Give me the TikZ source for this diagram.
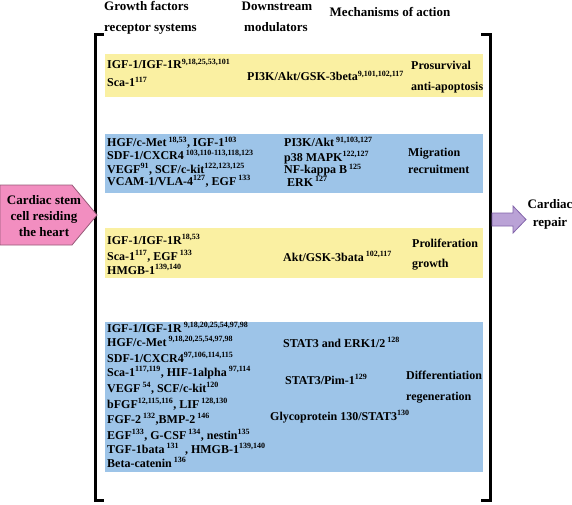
\documentclass[tikz,border=0pt]{standalone}
\usepackage{fontspec}
\setmainfont{Liberation Serif}
\definecolor{boxyellow}{RGB}{250,240,162}
\definecolor{boxblue}{RGB}{157,196,232}
\definecolor{pinkfill}{RGB}{242,142,192}
\definecolor{pinkline}{RGB}{150,90,120}
\definecolor{lavfill}{RGB}{186,162,214}
\definecolor{lavline}{RGB}{130,100,170}
\newcommand{\sps}[1]{\textsuperscript{#1}}
\tikzset{
  hdr/.style={font=\fontsize{13}{15}\selectfont\bfseries, inner sep=0pt},
  txt/.style={font=\fontsize{12}{14}\selectfont\bfseries, inner sep=0pt, anchor=base west},
  bigtxt/.style={font=\fontsize{13}{16}\selectfont\bfseries, inner sep=0pt, anchor=base},
  bracketline/.style={line width=3pt, line cap=butt, line join=miter},
}
\begin{document}
\begin{tikzpicture}[x=1pt,y=-1pt]
\useasboundingbox (0,0) rectangle (572,505);
% boxes
\fill[boxyellow] (105,54) rectangle (483,97);
\fill[boxblue] (105,134) rectangle (483,193);
\fill[boxyellow] (105,228) rectangle (483,278);
\fill[boxblue] (105,322) rectangle (483,472);
% brackets
\draw[bracketline] (104,35) -- (95,35) -- (95,500) -- (104,500);
\draw[bracketline] (481,35) -- (490,35) -- (490,500) -- (481,500);
% headers
\node[hdr, anchor=base west] (h1a) at (104,10.5) {Growth factors};
\node[hdr, anchor=base west] (h1b) at (104,32) {receptor systems};
\node[hdr, anchor=base] (h2a) at (277,10.5) {Downstream};
\node[hdr, anchor=base] (h2b) at (276,32) {modulators};
\node[hdr, anchor=base] (h3) at (390,16.5) {Mechanisms of action};
% left pentagon
\filldraw[fill=pinkfill, draw=pinkline, line width=0.8pt] (0,185) -- (72,185) -- (97,215) -- (72,245) -- (0,245) -- cycle;
\node[bigtxt] (c1) at (44,204.5) {Cardiac stem};
\node[bigtxt] (c2) at (44,220) {cell residing};
\node[bigtxt] (c3) at (44,236.5) {the heart};
% right arrow
\filldraw[fill=lavfill, draw=lavline, line width=0.8pt] (492,213) -- (513,213) -- (513,206) -- (526,219.5) -- (513,233) -- (513,226) -- (492,226) -- cycle;
\node[bigtxt] (r1) at (550,208) {Cardiac};
\node[bigtxt] (r2) at (550,226) {repair};
% box 1
\node[txt] (a1) at (107,69) {IGF-1/IGF-1R\sps{9,18,25,53,101}};
\node[txt] (a2) at (107,87) {Sca-1\sps{117}};
\node[txt] (a3) at (247,81) {PI3K/Akt/GSK-3beta\sps{9,101,102,117}};
\node[txt] (a4) at (411,70) {Prosurvival};
\node[txt] (a5) at (411,91) {anti-apoptosis};
% box 2
\node[txt] (b1) at (107,147) {HGF/c-Met\,\sps{18,53}, IGF-1\sps{103}};
\node[txt] (b2) at (107,160) {SDF-1/CXCR4\,\sps{103,110-113,118,123}};
\node[txt] (b3) at (107,173) {VEGF\sps{91}, SCF/c-kit\sps{122,123,125}};
\node[txt] (b4) at (107,185) {VCAM-1/VLA-4\sps{127}, EGF\,\sps{133}};
\node[txt] (b5) at (284,147) {PI3K/Akt\,\sps{91,103,127}};
\node[txt] (b6) at (284,161) {p38 MAPK\sps{122,127}};
\node[txt] (b7) at (284,174) {NF-kappa B\,\sps{125}};
\node[txt] (b8) at (287,186) {ERK\,\sps{127}};
\node[txt] (b9) at (408,157) {Migration};
\node[txt] (b10) at (408,173) {recruitment};
% box 3
\node[txt] (d1) at (107,244) {IGF-1/IGF-1R\sps{18,53}};
\node[txt] (d2) at (107,260) {Sca-1\sps{117}, EGF\,\sps{133}};
\node[txt] (d3) at (107,274) {HMGB-1\sps{139,140}};
\node[txt] (d4) at (283,261) {Akt/GSK-3bata\,\sps{102,117}};
\node[txt] (d5) at (412,247) {Proliferation};
\node[txt] (d6) at (412,267) {growth};
% box 4
\node[txt] (e1) at (107,332) {IGF-1/IGF-1R\,\sps{9,18,20,25,54,97,98}};
\node[txt] (e2) at (107,346) {HGF/c-Met\,\sps{9,18,20,25,54,97,98}};
\node[txt] (e3) at (107,362) {SDF-1/CXCR4\sps{97,106,114,115}};
\node[txt] (e4) at (107,376) {Sca-1\sps{117,119}, HIF-1alpha\,\sps{97,114}};
\node[txt] (e5) at (107,392) {VEGF\,\sps{54}, SCF/c-kit\sps{120}};
\node[txt] (e6) at (107,408) {bFGF\sps{12,115,116}, LIF\,\sps{128,130}};
\node[txt] (e7) at (107,423) {FGF-2\,\sps{132},BMP-2\,\sps{146}};
\node[txt] (e8) at (107,439) {EGF\sps{133}, G-CSF\,\sps{134}, nestin\sps{135}};
\node[txt] (e9) at (107,453) {TGF-1bata\,\sps{131}\ \ , HMGB-1\sps{139,140}};
\node[txt] (e10) at (107,467) {Beta-catenin\,\sps{136}};
\node[txt] (e11) at (283,347) {STAT3 and ERK1/2\,\sps{128}};
\node[txt] (e12) at (285,384) {STAT3/Pim-1\sps{129}};
\node[txt] (e13) at (270,420) {Glycoprotein 130/STAT3\sps{130}};
\node[txt] (e14) at (406,379) {Differentiation};
\node[txt] (e15) at (406,400) {regeneration};
\end{tikzpicture}
\end{document}
